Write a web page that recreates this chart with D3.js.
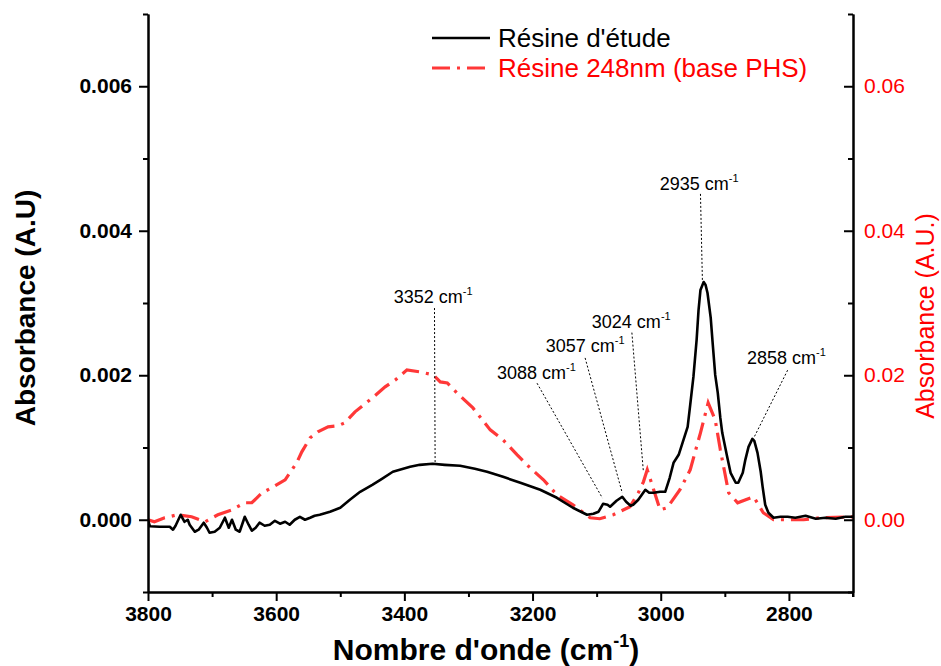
<!DOCTYPE html>
<html><head><meta charset="utf-8">
<script src="https://cdn.jsdelivr.net/npm/d3@7"></script>
<style>body{margin:0;background:#fff}svg{display:block}</style>
</head><body>
<svg id="c" width="941" height="666"></svg>
<script>
// ---- data ----
const wnBlack = [3800,3797,3782,3766,3761,3757,3749,3743,3738,3735,3727,3721,3713,3708,3704,3696,3688,3680,3674,3669,3663,3657,3649,3643,3638,3632,3626,3618,3610,3602,3594,3586,3579,3571,3563,3555,3547,3540,3532,3516,3500,3485,3469,3450,3435,3418,3391,3376,3356,3337,3313,3290,3271,3246,3219,3188,3162,3137,3115,3105,3097,3090,3083,3079,3069,3060,3054,3047,3043,3035,3024,3018,3011,3001,2993,2986,2980,2972,2966,2958,2954,2949,2944,2941,2938,2933,2930,2927,2922,2919,2915,2911,2907,2904,2897,2891,2883,2879,2872,2868,2863,2857,2854,2849,2844,2841,2837,2832,2824,2813,2802,2790,2774,2758,2743,2727,2712,2700];
const absBlack = [-0.00001,-0.00009,-0.000097,-0.000097,-0.000138,-0.000083,0.000069,-0.000028,0,-0.000069,-0.000166,-0.000138,-0.000041,-0.000111,-0.00018,-0.000166,-0.000111,0.000028,-0.000111,0,-0.000138,-0.000166,0.000041,-0.000069,-0.000152,-0.000111,-0.000041,-0.000083,-0.000069,-0.000014,-0.000055,-0.000028,-0.000069,0,0.000041,0,0.000028,0.000055,0.000069,0.000111,0.000166,0.000277,0.000387,0.000484,0.000567,0.000664,0.000733,0.00076,0.000774,0.00076,0.000747,0.000705,0.000664,0.000594,0.000512,0.000415,0.000304,0.000166,0.000069,0.000083,0.000111,0.000221,0.000207,0.00018,0.000263,0.000318,0.000249,0.000194,0.000207,0.000277,0.000415,0.000373,0.000373,0.000387,0.000387,0.000581,0.000788,0.000899,0.001065,0.001286,0.00159,0.001977,0.002489,0.002903,0.00318,0.00329,0.003249,0.003138,0.002793,0.002447,0.002005,0.001756,0.00141,0.001203,0.000899,0.00065,0.000512,0.000512,0.00065,0.000829,0.001009,0.00112,0.001092,0.000926,0.000664,0.000456,0.000207,0.000097,0.000028,0.000041,0.000041,0.000028,0.000055,0.000014,0.000028,0.000014,0.000041,0.000041];
const wnRed = [3800,3790,3774,3754,3732,3711,3691,3669,3649,3638,3622,3607,3586,3568,3560,3547,3535,3519,3504,3493,3477,3450,3430,3414,3396,3375,3355,3344,3333,3318,3293,3266,3246,3224,3204,3183,3162,3137,3110,3095,3074,3048,3035,3027,3021,3011,3001,2990,2970,2954,2938,2926,2915,2907,2894,2880,2855,2840,2824,2777,2751,2700];
const absRed = [0,-0.00028,0.00028,0.00069,0.00041,-0.00028,0.00069,0.00138,0.00235,0.00235,0.00373,0.00442,0.00553,0.00788,0.0094,0.01134,0.01217,0.01286,0.013,0.01341,0.01493,0.01687,0.01839,0.01936,0.02074,0.02046,0.02005,0.01908,0.01894,0.01756,0.01548,0.01244,0.01106,0.00899,0.00719,0.00553,0.00346,0.00207,0.00028,0.00014,0.00069,0.0018,0.00373,0.00525,0.00691,0.00415,0.00138,0.00166,0.00415,0.00691,0.01203,0.01618,0.01383,0.00968,0.00373,0.00235,0.00318,0.00097,0,0,0.00028,0.00041];
const xMajor = [3800,3600,3400,3200,3000,2800];
const xMinor = [3700,3500,3300,3100,2900,2700];
const yLMajor = [0,0.002,0.004,0.006];
const yLMinor = [-0.001,0.001,0.003,0.005,0.007];
const yRMajor = [0,0.02,0.04,0.06];
const yRMinor = [-0.01,0.01,0.03,0.05,0.07];
const seriesNames = ["Résine d'étude","Résine 248nm (base PHS)"];
// annotations: label, text position (wn, abs), leader from (wn,abs) to (wn,abs)
const annLabels = ["3352","3088","3057","3024","2935","2858"];
const annText = [[3355,0.00300],[3194,0.00195],[3118,0.00232],[3046,0.00265],[2940,0.00456],[2804,0.00216]];
const annFrom = [[3353,0.00293],[3193,0.00189],[3118,0.00224],[3045,0.00259],[2938,0.00451],[2802,0.00207]];
const annTo = [[3352,0.00076],[3091,0.00030],[3060,0.00037],[3027,0.00066],[2935,0.00332],[2855,0.00113]];

// ---- drawing ----
const FONT = "'Liberation Sans', Arial, Helvetica, sans-serif";
const svg = d3.select("#c");
const L = 148, R = 853, T = 14, B = 592;
const x = d3.scaleLinear().domain([3800,2700]).range([L,R]);
const yL = d3.scaleLinear().domain([-0.001,0.007]).range([B,T]);
const yR = d3.scaleLinear().domain([-0.01,0.07]).range([B,T]);

const blackData = wnBlack.map((w,i)=>[w,absBlack[i]]);
const redData = wnRed.map((w,i)=>[w,absRed[i]]);

svg.append("clipPath").attr("id","pc").append("rect")
  .attr("x",L).attr("y",T).attr("width",R-L).attr("height",B-T);

const g = svg.append("g").attr("clip-path","url(#pc)");
g.append("path").datum(redData)
  .attr("d", d3.line().x(d=>x(d[0])).y(d=>yR(d[1])))
  .attr("fill","none").attr("stroke","#ff3838").attr("stroke-width",3.2)
  .attr("stroke-dasharray","18,7,3,7");
g.append("path").datum(blackData)
  .attr("d", d3.line().x(d=>x(d[0])).y(d=>yL(d[1])))
  .attr("fill","none").attr("stroke","#000").attr("stroke-width",2.6)
  .attr("stroke-linejoin","round");

// annotations
annLabels.forEach((lab,i)=>{
  svg.append("line")
    .attr("x1",x(annFrom[i][0])).attr("y1",yL(annFrom[i][1]))
    .attr("x2",x(annTo[i][0])).attr("y2",yL(annTo[i][1]))
    .attr("stroke","#000").attr("stroke-width",1).attr("stroke-dasharray","2,2");
  const t = svg.append("text").attr("x",x(annText[i][0])).attr("y",yL(annText[i][1]))
    .attr("text-anchor","middle").attr("font-family",FONT).attr("font-size",18).attr("fill","#000");
  t.append("tspan").text(lab+" cm");
  t.append("tspan").attr("dy",-8).attr("font-size",11).text("-1");
});

function styleAxis(sel, color){
  sel.selectAll("path.domain").attr("stroke","#000").attr("stroke-width",2);
  sel.selectAll(".tick line").attr("stroke","#000").attr("stroke-width",2);
  sel.selectAll("text").attr("font-family",FONT).attr("font-size",21).attr("fill",color);
}

// bottom axis
const gx = svg.append("g").attr("transform",`translate(0,${B})`)
  .call(d3.axisBottom(x).tickValues(xMajor).tickFormat(d3.format("d")).tickSize(9).tickSizeOuter(0).tickPadding(5));
styleAxis(gx,"#000"); gx.selectAll("text").attr("font-weight","bold");
const gxm = svg.append("g").attr("transform",`translate(0,${B})`)
  .call(d3.axisBottom(x).tickValues(xMinor).tickFormat("").tickSize(5).tickSizeOuter(0));
styleAxis(gxm,"#000");

// left axis
const gl = svg.append("g").attr("transform",`translate(${L},0)`)
  .call(d3.axisLeft(yL).tickValues(yLMajor).tickFormat(d3.format(".3f")).tickSize(9).tickSizeOuter(0).tickPadding(7));
styleAxis(gl,"#000"); gl.selectAll("text").attr("font-weight","bold");
const glm = svg.append("g").attr("transform",`translate(${L},0)`)
  .call(d3.axisLeft(yL).tickValues(yLMinor).tickFormat("").tickSize(5).tickSizeOuter(0));
styleAxis(glm,"#000");

// right axis (ticks inward)
const gr = svg.append("g").attr("transform",`translate(${R},0)`)
  .call(d3.axisRight(yR).tickValues(yRMajor).tickFormat(d3.format(".2f")).tickSize(-9).tickSizeOuter(0).tickPadding(11));
styleAxis(gr,"#ff0000");
const grm = svg.append("g").attr("transform",`translate(${R},0)`)
  .call(d3.axisRight(yR).tickValues(yRMinor).tickFormat("").tickSize(-5).tickSizeOuter(0));
styleAxis(grm,"#000");
svg.append("line").attr("x1",R).attr("x2",R).attr("y1",B).attr("y2",B+5).attr("stroke","#000").attr("stroke-width",2);

// axis titles
const xt = svg.append("text").attr("x",486).attr("y",660).attr("text-anchor","middle")
  .attr("font-family",FONT).attr("font-weight","bold").attr("font-size",30).attr("fill","#000");
xt.append("tspan").text("Nombre d'onde (cm");
xt.append("tspan").attr("dy",-13).attr("font-size",18).text("-1");
xt.append("tspan").attr("dy",13).text(")");

svg.append("text").attr("transform","translate(35,308) rotate(-90)").attr("text-anchor","middle")
  .attr("font-family",FONT).attr("font-weight","bold").attr("font-size",28).attr("fill","#000")
  .text("Absorbance (A.U)");
svg.append("text").attr("transform","translate(934,316) rotate(-90)").attr("text-anchor","middle")
  .attr("font-family",FONT).attr("font-size",25).attr("fill","#ff0000")
  .text("Absorbance (A.U.)");

// legend
const legend = svg.append("g");
const legColors = ["#000","#ff3838"];
const legDash = [null,"18,7,3,7"];
const legW = [2.6,3.2];
seriesNames.forEach((n,i)=>{
  const yy = 38 + i*30;
  legend.append("line").attr("x1",432).attr("x2",490).attr("y1",yy).attr("y2",yy)
    .attr("stroke",legColors[i]).attr("stroke-width",legW[i]).attr("stroke-dasharray",legDash[i]);
  legend.append("text").attr("x",498).attr("y",yy+9).attr("font-family",FONT).attr("font-size",26)
    .attr("fill",i===0?"#000":"#ff0000").text(n);
});
</script>
</body></html>
